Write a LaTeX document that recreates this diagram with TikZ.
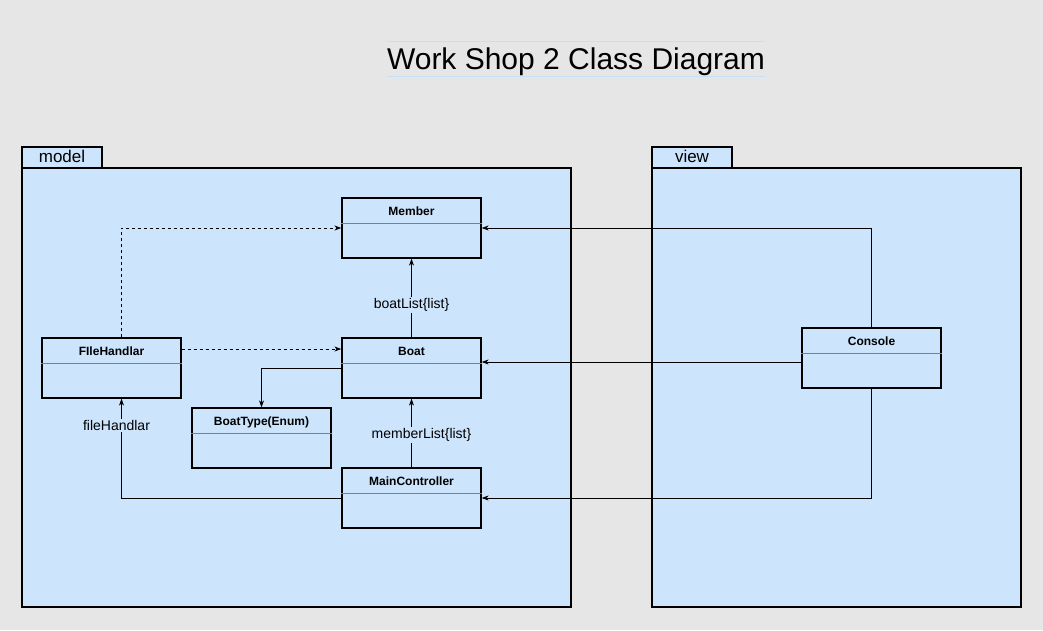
\documentclass[tikz,border=0pt]{standalone}
\usepackage{fontspec}
\setmainfont{Liberation Sans}
\usetikzlibrary{arrows.meta,positioning,calc}
\definecolor{pkgblue}{HTML}{CCE4FC}
\definecolor{bggray}{HTML}{E6E6E6}
\definecolor{titleline}{HTML}{C6E0F8}
\tikzstyle{umlclass} = [rectangle, draw=black, line width=1.3pt, fill=pkgblue, minimum width=139pt, minimum height=60pt, inner sep=0pt]
\tikzstyle{arrow} = [line width=0.8pt, -{Stealth[length=7pt,width=5pt]}]
\tikzset{
  package/.style={draw=black, line width=1.3pt, fill=pkgblue, inner sep=0pt},
  pkgtab/.style={draw=black, line width=1.3pt, fill=pkgblue, minimum width=80pt, minimum height=21pt, inner sep=0pt, font=\fontsize{17}{19}\selectfont},
  classname/.style={font=\bfseries\fontsize{12}{14}\selectfont},
  assoc/.style={font=\fontsize{14}{16}\selectfont, fill=pkgblue, inner sep=1pt}
}

\begin{document}
\begin{tikzpicture}[x=1pt, y=-1pt]
    % background
    \fill[bggray] (0,0) rectangle (1043,630);
    \useasboundingbox (0,0) rectangle (1043,630);
    % title
    \node (title) [inner xsep=0pt, inner ysep=0pt, text height=27pt, text depth=7pt, font=\fontsize{30}{34}\selectfont] at (576,59) {Work Shop 2 Class Diagram};
    \draw[titleline, line width=1pt] (title.north west) -- (title.north east);
    \draw[titleline, line width=1pt] (title.south west) -- (title.south east);
    % packages
    \node (modelTab) [pkgtab] at (62,157.5) {\raisebox{3pt}{model}\hspace{12pt}};
    \node (model) [package, minimum width=549pt, minimum height=439pt] at (296.5,387.5) {};
    \node (viewTab) [pkgtab] at (692,157.5) {\raisebox{3pt}{view}};
    \node (view) [package, minimum width=369pt, minimum height=439pt] at (836.5,387.5) {};
    % classes
    \node (Member)         [umlclass] at (411.5,228) {};
    \node (FileHandlar)    [umlclass] at (111.5,368) {};
    \node (Boat)           [umlclass] at (411.5,368) {};
    \node (BoatType)       [umlclass] at (261.5,438) {};
    \node (MainController) [umlclass] at (411.5,498) {};
    \node (Console)        [umlclass] at (871.5,358) {};
    \foreach \cls/\txt in {Member/Member, FileHandlar/FIleHandlar, Boat/Boat, BoatType/BoatType(Enum), MainController/MainController, Console/Console}{
      \node[classname, anchor=north] at ([yshift=-6pt]\cls.north) {\txt};
      \draw[gray, line width=0.8pt] ([yshift=-26pt]\cls.north west) -- ([yshift=-26pt]\cls.north east);
    }
    % arrows
    \draw[arrow, dashed] ([xshift=10pt]FileHandlar.north) |- (Member.west);
    \draw[arrow, dashed] ([yshift=19pt]FileHandlar.east) -- ([yshift=19pt]Boat.west);
    \draw[arrow] (Boat.west) -| (BoatType.north);
    \draw[arrow] (Boat.north) -- node[assoc, yshift=-7pt] {boatList\{list\}} (Member.south);
    \draw[arrow] (MainController.north) -- node[assoc, xshift=10pt, yshift=-2pt] {memberList\{list\}} (Boat.south);
    \draw[arrow] (MainController.west) -| node[assoc, pos=0.865, xshift=-5pt] {fileHandlar} ([xshift=10pt]FileHandlar.south);
    \draw[arrow] (Console.north) |- (Member.east);
    \draw[arrow] ([yshift=-4pt]Console.west) -- ([yshift=-4pt]Console.west -| Boat.east);
    \draw[arrow] (Console.south) |- (MainController.east);
\end{tikzpicture}
\end{document}
